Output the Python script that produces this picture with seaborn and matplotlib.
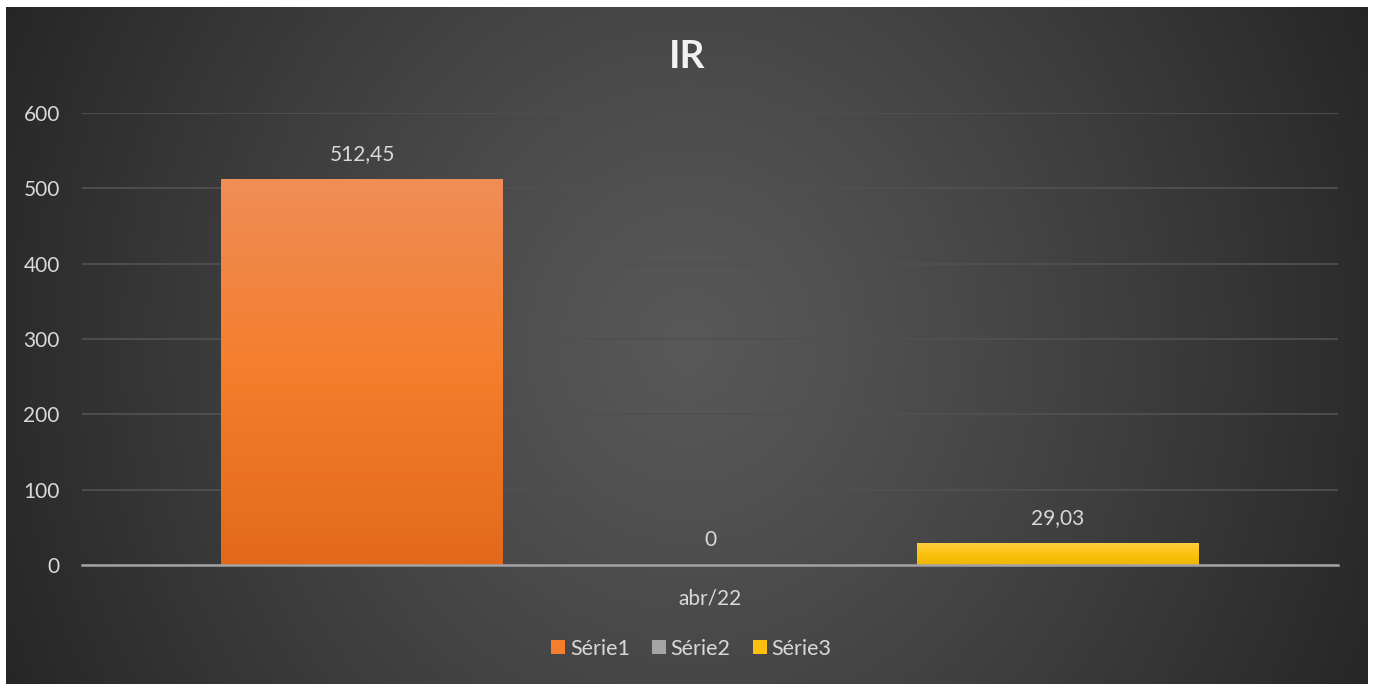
import numpy as np
import pandas as pd
import matplotlib
matplotlib.use("Agg")
import matplotlib.pyplot as plt
from matplotlib.colors import LinearSegmentedColormap
from matplotlib.lines import Line2D
import seaborn as sns

# ---- data ----
categories = ["abr/22"]
series = ["Série1", "Série2", "Série3"]
values = [512.45, 0, 29.03]
title = "IR"
yticks = [0, 100, 200, 300, 400, 500, 600]

sns.set_theme(style="dark")
plt.rcParams["font.family"] = ["Lato", "DejaVu Sans"]

W, H = 1375, 684
fig = plt.figure(figsize=(W / 100, H / 100), dpi=100, facecolor="white")

# background panel with radial gradient
bg = fig.add_axes([6 / W, 0, (1368 - 6) / W, (684 - 7) / H])
bg.set_axis_off()
gh, gw = 300, 600
yy, xx = np.mgrid[0:gh, 0:gw]
cx, cy = gw * 0.5, gh * 0.5
d = np.sqrt(((xx - cx) / (gw * 0.55)) ** 2 + ((yy - cy) / (gh * 1.2)) ** 2)
d = np.clip(d, 0, 1) ** 1.2
c0 = np.array([0x58, 0x58, 0x58]) / 255
c1 = np.array([0x26, 0x26, 0x26]) / 255
img = c0[None, None, :] * (1 - d[..., None]) + c1[None, None, :] * d[..., None]
bg.imshow(img, aspect="auto", extent=[0, 1, 0, 1], interpolation="bilinear")
bg.set_xlim(0, 1)
bg.set_ylim(0, 1)

# main axes
ax = fig.add_axes([82 / W, (H - 565) / H, (1338 - 82) / W, (565 - 113) / H])
ax.set_facecolor("none")

df = pd.DataFrame({
    "month": [categories[0]] * len(series),
    "series": series,
    "value": values,
})

palette = ["#F47E2C", "#A5A5A5", "#FDC010"]
sns.barplot(data=df, x="month", y="value", hue="series", hue_order=series,
            palette=palette, width=0.8, gap=0.19, ax=ax, legend=False,
            zorder=3, linewidth=0)

grads = [
    ["#E2691B", "#F47E2C", "#F08D57"],
    ["#8C8C8C", "#A5A5A5", "#B8B8B8"],
    ["#EFB500", "#FBC20F", "#FFCD40"],
]

for cont, g, v in zip(ax.containers, grads, values):
    for patch in cont.patches:
        x0, y0 = patch.get_x(), patch.get_y()
        w, h = patch.get_width(), patch.get_height()
        if h <= 0:
            continue
        cmap = LinearSegmentedColormap.from_list("g", g)
        grad = np.linspace(1, 0, 256).reshape(-1, 1)
        im = ax.imshow(grad, cmap=cmap, aspect="auto", extent=[x0, x0 + w, y0, y0 + h],
                       zorder=4, interpolation="bilinear")
        im.set_clip_path(patch)
    lab = "0" if v == 0 else f"{v:.2f}".replace(".", ",")
    ax.bar_label(cont, labels=[lab], padding=11, color="#D9D9D9", fontsize=15, zorder=6)

ax.set_xlim(-0.4816, 0.4816)
ax.set_ylim(0, 600)
ax.set_yticks(yticks)
ax.set_yticklabels([str(t) for t in yticks])
ax.set_xlabel("")
ax.set_ylabel("")

ax.grid(axis="y", color="#505050", linewidth=1.3, zorder=1)
ax.grid(axis="x", visible=False)
for s in ["top", "right", "left"]:
    ax.spines[s].set_visible(False)
ax.spines["bottom"].set_visible(True)
ax.spines["bottom"].set_color("#A3A3A3")
ax.spines["bottom"].set_linewidth(1.8)
ax.spines["bottom"].set_zorder(5)

ax.tick_params(axis="y", length=0, pad=16, labelsize=15, labelcolor="#D9D9D9")
ax.tick_params(axis="x", length=0, pad=17, labelsize=15, labelcolor="#D9D9D9")

fig.text(687 / W, 1 - 57 / H, title, ha="center", va="center", fontsize=28,
         fontweight="bold", color="#F2F2F2")

handles = [Line2D([0], [0], marker="s", linestyle="none", markersize=10,
                  markerfacecolor=c, markeredgewidth=0) for c in palette]
fig.legend(handles, series, loc="center", bbox_to_anchor=(690 / W, 1 - 649 / H),
           ncol=3, frameon=False, fontsize=15.5, labelcolor="#D9D9D9",
           handletextpad=0.1, columnspacing=0.9, handlelength=0.9)

fig.savefig("out.png", dpi=100, facecolor="white")
